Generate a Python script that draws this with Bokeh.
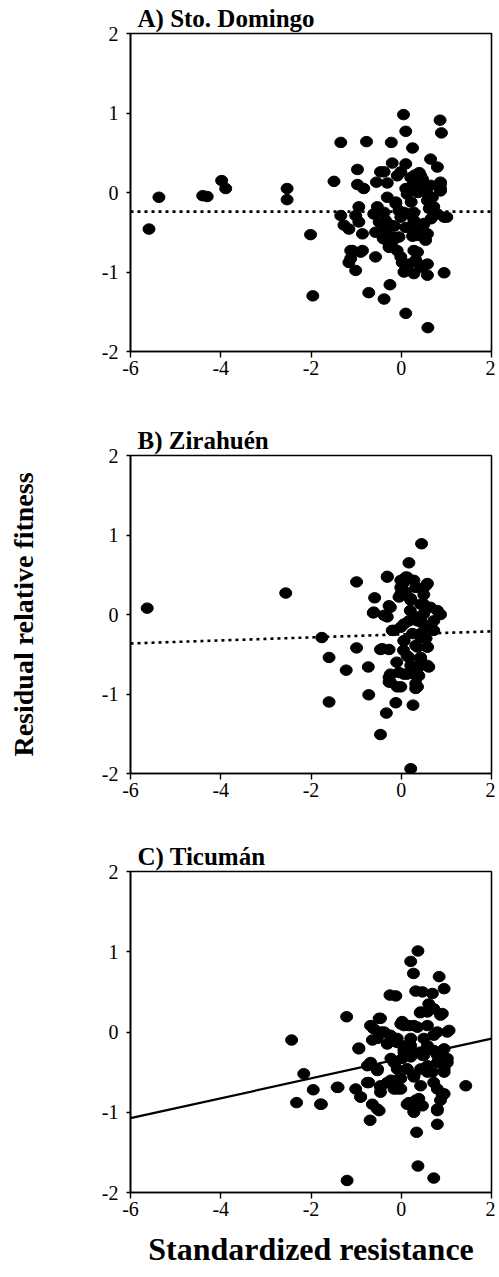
from bokeh.plotting import figure
from bokeh.layouts import column
from bokeh.models import Range1d, FixedTicker
from bokeh.embed import file_html
from bokeh.resources import INLINE

# ---------------- data ----------------
xA = [-5.59, -5.37, -4.40, -4.30, -3.98, -3.89, -2.53, -2.53, -2.01, -1.96,
      -1.49, -1.34, -0.77, -0.22, 0.05, 0.10, 0.25, 0.86, 0.89, 0.65, 0.80,
      -0.97, -0.97, -0.83, -0.55, -0.46, -0.31, -0.20, -0.01, 0.10, 0.28, 0.47,
      0.21, 0.37, 0.13, -0.31, -0.12, 0.87, 0.87, 0.69, 0.58, 0.69, 0.80, 1.01,
      0.66, -0.94, -1.01, -1.34, -1.27, -1.16, -0.53, -0.38, -0.35, -0.05, -0.01,
      0.17, 0.28, 0.10, 0.39, 0.54, 0.54, -0.86, -0.57, -0.31, -0.20, -0.05,
      -0.27, -0.09, -0.01, 0.36, 0.17, 0.06, 0.28, 0.50, 0.58, 0.95, -1.08,
      -0.90, -1.16, -1.01, -0.57, -0.72, -0.25, -0.38, 0.10, 0.59,
      0.30, 0.45, 0.22, 0.50, 0.25, -0.15, 0.62, -0.40, 0.40, 0.15,
      -0.38, 0.21, 0.43, -0.09, 0.36, 0.10, 0.65, 0.87, 0.87, -0.12, 0.58,
      0.72, 0.95, 0.06, 0.28, 0.21, 0.50, 0.58, 0.36, -0.61, -0.49, -0.38,
      -0.24, -0.16, -0.27, 0.02, 0.28, 0.32, -1.12, -0.86, -1.12, -0.94,
      0.43, 0.58]
yA = [-0.46, -0.06, -0.04, -0.05, 0.15, 0.05, 0.05, -0.09, -0.53, -1.30,
      0.14, 0.63, 0.64, 0.63, 0.98, 0.77, 0.56, 0.91, 0.75, 0.42, 0.32,
      0.29, 0.10, 0.05, 0.13, 0.26, 0.12, 0.37, 0.26, 0.36, 0.19, 0.17,
      0.07, 0.00, -0.02, -0.06, -0.12, 0.13, 0.05, -0.06, -0.02, -0.18, -0.27, -0.31,
      -0.33, -0.18, -0.29, -0.29, -0.41, -0.46, -0.18, -0.25, -0.35, -0.23, -0.31,
      -0.27, -0.35, -0.44, -0.48, -0.52, -0.60, -0.52, -0.50, -0.52, -0.62, -0.56,
      -0.65, -0.73, -0.81, -0.75, -0.90, -1.00, -1.02, -0.92, -1.04, -1.01, -0.73,
      -0.75, -0.88, -0.98, -0.81, -1.26, -1.16, -1.34, -1.52, -1.70,
      0.22, 0.05, -0.12, -0.40, -0.55, -0.42, -0.20, -0.58, 0.25, 0.05,
      0.26, 0.19, 0.21, 0.21, 0.07, 0.05, 0.09, 0.11, 0.02, -0.14, -0.10,
      -0.18, -0.31, -0.25, -0.25, -0.44, -0.39, -0.52, -0.54, -0.27, -0.37, -0.48,
      -0.41, -0.56, -0.69, -0.88, -0.73, -0.85, -0.73, -0.73, -0.83, -0.37,
      -0.94, -0.90]

xB = [-5.63, -2.56, -1.76, -1.60, -1.60, -1.22, -0.99, -0.99, -0.73, -0.72,
      -0.59, -0.62, -0.46, -0.33, -0.12, 0.26, -0.46, -0.27, -0.31, -0.27,
      -0.38, -0.20, -0.01, 0.06, -0.05, -0.01, 0.10, 0.17, 0.45, 0.54, 0.32,
      0.21, 0.43, 0.65, 0.87, 0.72, 0.50, 0.36, 0.58, 0.72, 0.17, 0.25, 0.43,
      0.32, 0.58, 0.17, 0.43, 0.61, 0.39, -0.27, -0.05, 0.13, -0.27, -0.09,
      0.32, 0.32, 0.39, 0.21,
      0.05, 0.28, 0.50, 0.10, 0.20, 0.45, 0.05, -0.10, 0.55,
      -0.31, -0.01, 0.13, 0.58, -0.01, 0.21, 0.50, 0.80, -0.24, -0.61, -0.31,
      0.06, 0.36, 0.65, -0.16, 0.06, 0.43, 0.36, 0.58, 0.13, 0.43, 0.21, 0.58,
      -0.24, 0.06, 0.28, -0.24, -0.01, 0.36, -0.42]
yB = [0.08, 0.27, -0.29, -0.54, -1.10, -0.70, 0.41, -0.42, -0.66, -1.01,
      0.21, 0.02, -1.51, -1.24, -1.11, -1.14, -0.44, -0.44, 0.48, 0.11,
      -0.01, -0.20, -0.16, -0.33, 0.22, 0.34, 0.47, 0.65, 0.89, 0.36, 0.34,
      0.20, 0.13, 0.09, 0.00, -0.08, 0.01, -0.03, -0.16, -0.20, -0.08, -0.24, -0.24,
      -0.39, -0.41, -0.54, -0.56, -0.66, -0.66, -0.79, -0.73, -0.75, -0.85, -0.91,
      -0.87, -0.93, -0.77, -1.94,
      0.40, 0.43, 0.25, 0.28, 0.05, -0.10, -0.45, -0.60, -0.30,
      0.47, 0.43, 0.47, 0.39, 0.26, 0.18, 0.13, 0.05, 0.09, 0.03, -0.03,
      -0.12, -0.08, -0.16, -0.20, -0.33, -0.29, -0.41, -0.41, -0.52, -0.54, -0.64, -0.64,
      -0.75, -0.75, -0.75, -0.85, -0.91, -0.91, -0.43]

xC = [-2.43, -2.32, -2.16, -1.95, -1.77, -1.40, -1.21, -1.20, -0.94, -1.01,
      -0.90, -0.72, -0.75, -0.69, -0.64, -0.49, -0.53, -0.68, -0.49, -0.64,
      -0.46, -0.46, -0.27, -0.09, -0.25, -0.12, -0.31, 0.02, 0.17, 0.36, 0.21,
      0.27, 0.37, 0.32, 0.47, 0.42, 0.61, 0.69, 0.84, 0.95, 0.91, 0.72, 1.06,
      0.80, 0.95, 0.72, 1.02, 0.95, 1.43, 0.72, 0.95, 0.87, 0.80, 0.80, 0.72,
      0.37, 0.34, 0.13, 0.32, 0.47, 0.28, 0.10, 0.25, 0.47, 0.58, 0.58, 0.02,
      0.13, 0.28, 0.43, -0.05, -0.23, -0.09, 0.80, 0.58, -0.09, 0.21,
      -0.94, -0.38, -0.23, -0.01, 0.43, -0.53, 0.06, 0.21, 0.50, 0.69, 0.43,
      0.17, 0.39, 0.28, 0.80, 0.91, 0.85, -0.46, -0.23, -0.01, 0.28, -0.90,
      -1.79, -1.42, -0.53,
      0.58, 0.87, -0.46, 0.06, 0.28, -0.61, -0.53, -0.24, -0.09, 0.21, 0.50,
      0.72, 1.02, 0.06, 0.43, 0.80, 1.02, -0.16, 0.13, -0.68, -0.53, -0.75,
      -0.31, -0.01, 0.28, 0.58, 0.95, -0.16, -0.46, 0.80]
yC = [-0.10, -0.88, -0.52, -0.72, -0.90, -0.69, 0.19, -1.85, -0.20, -0.71,
      -0.81, -0.63, -0.42, -1.10, -0.90, -0.98, -0.46, 0.08, 0.17, -0.10,
      0.00, -0.69, -0.63, -0.71, 0.46, 0.45, -0.15, 0.13, 0.08, 0.06, 0.88,
      0.73, 1.01, 0.51, 0.50, 0.24, 0.35, 0.48, 0.69, 0.54, 0.23, 0.29, 0.02,
      0.00, -0.21, -0.23, -0.33, -0.46, -0.67, -0.63, -0.77, -0.85, -0.98, -1.15, -1.82,
      -1.67, -1.25, -0.90, -0.85, -0.92, -1.00, -0.17, -0.25, -0.29, -0.17, -0.42, -0.33,
      -0.46, -0.54, -0.67, -0.58, -0.33, -0.46, -0.38, 0.08, -0.08, -0.08,
      -0.21, 0.00, -0.08, -0.71, 0.25, -0.48, -0.21, -0.31, -0.29, -0.50, -0.46,
      -0.88, -0.83, -0.98, -0.96, -0.79, -0.25, -0.67, -0.60, 0.10, -0.56, -0.81,
      -0.90, -0.69, -0.96,
      0.25, 0.21, 0.17, 0.08, 0.08, 0.04, -0.08, -0.04, -0.13, -0.17, -0.08,
      -0.04, 0.00, -0.25, -0.25, -0.29, -0.38, -0.38, -0.46, -0.38, -0.46, -0.63,
      -0.63, -0.58, -0.54, -0.50, -0.50, -0.71, -0.75, -0.71]

# regression fits (intercept, slope)
fitA = (-0.24, 0.0)
fitB = (-0.25, 0.019)
fitC = (-0.33, 0.124)

x_limits = [-6, 2]
y_limits = [-2, 2]
x_ticks = [-6, -4, -2, 0, 2]
x_tick_labels = ["-6", "-4", "-2", "0", "2"]
y_ticks = [-2, -1, 0, 1, 2]
y_tick_labels = ["-2", "-1", "0", "1", "2"]

titles = ["A) Sto. Domingo", "B) Zirahuén", "C) Ticumán"]
x_title = "Standardized resistance"
y_title = "Residual relative fitness"

SERIF = "Liberation Serif"


def make_panel(xs, ys, fit, title, height, border_bottom, dash, xlabel=None, ylabel=None):
    p = figure(width=495, height=height, output_backend="svg", toolbar_location=None,
               x_range=Range1d(*x_limits), y_range=Range1d(*y_limits),
               min_border_left=130, min_border_right=4, min_border_top=33,
               min_border_bottom=border_bottom)
    p.grid.visible = False
    p.background_fill_color = "white"
    p.border_fill_color = "white"
    p.outline_line_color = "black"
    p.outline_line_width = 1.6

    p.title.text = title
    p.title.text_font = SERIF
    p.title.text_font_style = "bold"
    p.title.text_font_size = "25px"
    p.title.text_color = "black"
    p.title.align = "left"
    p.title.offset = 7
    p.title.standoff = 3

    p.xaxis.ticker = FixedTicker(ticks=x_ticks)
    p.yaxis.ticker = FixedTicker(ticks=y_ticks)
    p.xaxis.major_label_overrides = {t: l for t, l in zip(x_ticks, x_tick_labels)}
    p.yaxis.major_label_overrides = {t: l for t, l in zip(y_ticks, y_tick_labels)}
    for ax in (p.xaxis[0], p.yaxis[0]):
        ax.axis_line_color = "black"
        ax.axis_line_width = 1.6
        ax.major_tick_line_color = "black"
        ax.major_tick_line_width = 1.4
        ax.major_tick_in = 0
        ax.minor_tick_line_color = None
        ax.major_label_text_font = SERIF
        ax.major_label_text_font_size = "20px"
        ax.major_label_text_color = "black"
        ax.axis_label_text_font = SERIF
        ax.axis_label_text_font_style = "bold"
        ax.axis_label_text_color = "black"
    p.xaxis.major_tick_out = 6
    p.xaxis.major_label_standoff = 3
    p.yaxis.major_tick_out = 4
    p.yaxis.major_label_standoff = 8

    if xlabel:
        p.xaxis.axis_label = xlabel
        p.xaxis.axis_label_text_font_size = "32px"
        p.xaxis.axis_label_standoff = 12
    if ylabel:
        p.yaxis.axis_label = ylabel
        p.yaxis.axis_label_text_font_size = "28px"
        p.yaxis.axis_label_standoff = 60

    b0, b1 = fit
    ly = [b0 + b1 * v for v in x_limits]
    if dash:
        p.line(x_limits, ly, line_color="black", line_width=2.6, line_dash="3 4")
    else:
        p.line(x_limits, ly, line_color="black", line_width=2.2)

    p.ellipse(xs, ys, width=12, height=10.5, width_units="screen", height_units="screen",
              fill_color="black", line_color="black")
    return p


pA = make_panel(xA, yA, fitA, titles[0], 422, 71, True)
pB = make_panel(xB, yB, fitB, titles[1], 416, 65, True, ylabel=y_title)
pC = make_panel(xC, yC, fitC, titles[2], 439, 85, False, xlabel=x_title)

layout = column(pA, pB, pC, spacing=0)
open("out.html", "w").write(file_html(layout, INLINE))
